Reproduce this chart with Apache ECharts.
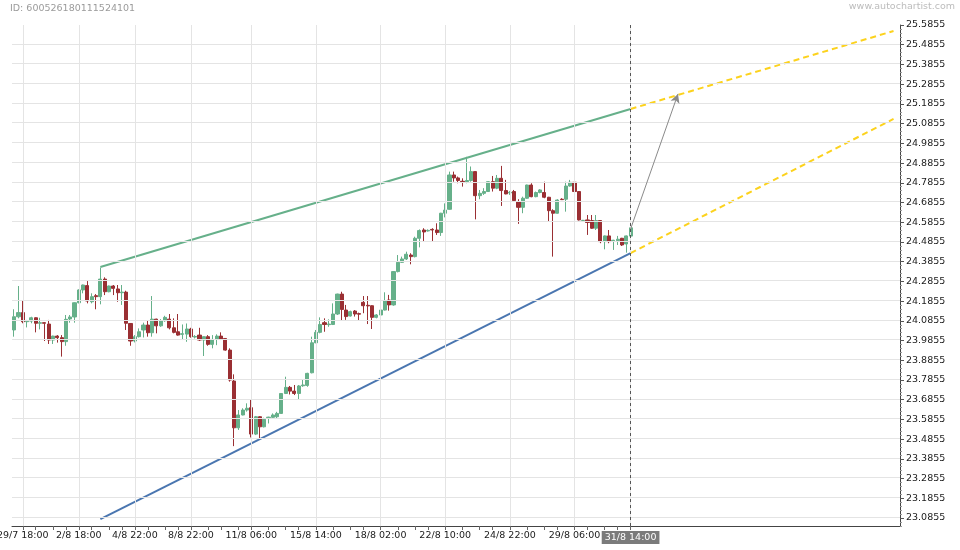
<!DOCTYPE html>
<html><head><meta charset="utf-8">
<script src="https://cdn.jsdelivr.net/npm/echarts@6/dist/echarts.min.js"></script>
<style>html,body{margin:0;padding:0;background:#fff}#c{width:960px;height:550px}</style>
</head><body><div id="c"></div>
<script>
const chartId = 'ID: 600526180111524101';
const sourceText = 'www.autochartist.com';

const opens = [24.039,24.106,24.127,24.081,24.084,24.101,24.073,24.076,24.069,23.988,24.008,24.000,23.980,24.095,24.105,24.177,24.242,24.264,24.182,24.213,
24.208,24.297,24.233,24.262,24.247,24.228,24.231,24.072,23.983,24.005,24.039,24.064,24.025,24.094,24.060,24.086,24.094,24.050,24.030,24.017,
24.018,24.044,24.003,24.013,23.988,24.005,23.966,23.991,24.008,23.996,23.937,23.780,23.543,23.608,23.633,23.645,23.511,23.599,23.548,23.594,
23.596,23.599,23.616,23.717,23.748,23.729,23.717,23.756,23.758,23.822,23.974,24.027,24.076,24.066,24.067,24.120,24.221,24.140,24.110,24.135,
24.122,24.179,24.164,24.162,24.103,24.115,24.140,24.191,24.166,24.335,24.382,24.399,24.419,24.411,24.504,24.546,24.541,24.549,24.546,24.533,
24.631,24.651,24.825,24.810,24.793,24.791,24.797,24.842,24.720,24.732,24.741,24.791,24.758,24.808,24.746,24.734,24.741,24.690,24.661,24.707,
24.774,24.715,24.736,24.736,24.712,24.644,24.631,24.702,24.702,24.769,24.788,24.741,24.594,24.597,24.594,24.555,24.594,24.487,24.516,24.491,
24.492,24.504,24.475,24.515];
const closes = [24.106,24.127,24.081,24.086,24.101,24.073,24.076,24.073,23.988,24.008,24.000,23.980,24.093,24.105,24.177,24.242,24.267,24.186,24.208,24.208,
24.297,24.233,24.262,24.250,24.228,24.231,24.073,23.983,24.005,24.030,24.064,24.025,24.094,24.060,24.086,24.103,24.050,24.027,24.013,24.020,
24.044,24.005,24.006,23.988,24.005,23.966,23.991,24.008,23.993,23.937,23.785,23.543,23.608,23.633,23.642,23.511,23.599,23.548,23.586,23.597,
23.608,23.616,23.717,23.748,23.729,23.717,23.755,23.760,23.819,23.974,24.027,24.067,24.067,24.069,24.120,24.221,24.143,24.107,24.132,24.120,
24.119,24.162,24.161,24.103,24.115,24.140,24.188,24.166,24.335,24.382,24.399,24.423,24.411,24.504,24.543,24.536,24.544,24.546,24.533,24.631,
24.647,24.825,24.810,24.797,24.790,24.797,24.842,24.720,24.732,24.741,24.791,24.758,24.808,24.746,24.729,24.737,24.695,24.661,24.707,24.774,
24.715,24.736,24.749,24.712,24.644,24.631,24.698,24.700,24.769,24.788,24.741,24.597,24.595,24.584,24.555,24.594,24.487,24.516,24.487,24.494,
24.499,24.470,24.516,24.557];
const lows = [24.005,24.098,24.073,24.052,24.073,24.027,24.042,23.983,23.968,23.968,23.975,23.904,23.959,24.076,24.076,24.174,24.225,24.174,24.174,24.144,
24.169,24.216,24.230,24.216,24.182,24.166,24.039,23.959,23.976,24.001,24.001,24.005,24.005,24.022,24.055,24.081,24.042,24.022,24.010,23.988,
23.979,24.000,23.996,23.983,23.907,23.959,23.946,23.962,23.988,23.934,23.777,23.450,23.532,23.606,23.625,23.494,23.506,23.489,23.545,23.565,
23.591,23.591,23.613,23.714,23.712,23.709,23.684,23.751,23.751,23.819,23.972,24.022,24.030,24.055,24.064,24.115,24.086,24.090,24.107,24.107,
24.085,24.124,24.069,24.044,24.098,24.073,24.138,24.137,24.162,24.331,24.380,24.394,24.372,24.407,24.458,24.487,24.538,24.487,24.521,24.516,
24.610,24.649,24.791,24.783,24.766,24.783,24.791,24.600,24.702,24.724,24.739,24.741,24.753,24.668,24.727,24.724,24.690,24.577,24.631,24.704,
24.712,24.712,24.732,24.707,24.589,24.411,24.629,24.698,24.639,24.766,24.732,24.594,24.589,24.521,24.552,24.546,24.479,24.448,24.479,24.445,
24.470,24.465,24.431,24.505];
const highs = [24.144,24.262,24.188,24.090,24.106,24.103,24.101,24.078,24.090,24.010,24.013,24.013,24.115,24.115,24.179,24.245,24.269,24.287,24.225,24.221,
24.355,24.306,24.264,24.267,24.267,24.267,24.238,24.074,24.013,24.047,24.076,24.086,24.211,24.096,24.094,24.111,24.120,24.098,24.120,24.067,
24.072,24.050,24.013,24.050,24.007,24.013,24.013,24.017,24.027,23.998,23.946,23.814,23.633,23.642,23.667,23.687,23.603,23.601,23.594,23.599,
23.616,23.624,23.719,23.802,23.755,23.760,23.760,23.788,23.822,24.005,24.039,24.103,24.098,24.093,24.174,24.223,24.233,24.166,24.137,24.140,
24.127,24.211,24.211,24.164,24.120,24.149,24.230,24.217,24.337,24.419,24.411,24.436,24.428,24.512,24.549,24.555,24.549,24.555,24.580,24.633,
24.681,24.842,24.842,24.817,24.808,24.917,24.868,24.844,24.749,24.758,24.793,24.820,24.825,24.871,24.800,24.744,24.749,24.702,24.715,24.776,
24.783,24.741,24.753,24.791,24.714,24.651,24.702,24.707,24.791,24.800,24.830,24.743,24.597,24.622,24.622,24.622,24.596,24.518,24.546,24.496,
24.516,24.506,24.518,24.565];

const slotCount = 206;
const tickIndex = [2, 15, 28, 41, 55, 70, 85, 100, 115, 130, 143];
const tickLabels = ['29/7 18:00', '2/8 18:00', '4/8 22:00', '8/8 22:00', '11/8 06:00', '15/8 14:00', '18/8 02:00', '22/8 10:00', '24/8 22:00', '29/8 06:00', '31/8 14:00'];
const currentIndex = 143;

const yTicks = [23.0855, 23.1855, 23.2855, 23.3855, 23.4855, 23.5855, 23.6855, 23.7855, 23.8855, 23.9855, 24.0855, 24.1855, 24.2855,
  24.3855, 24.4855, 24.5855, 24.6855, 24.7855, 24.8855, 24.9855, 25.0855, 25.1855, 25.2855, 25.3855, 25.4855, 25.5855];
const yTop = 25.5855;
const yBottom = 23.045;

const resistance = [[20, 24.358], [143, 25.1595]];
const support = [[20, 23.080], [143, 24.429]];
const projUpper = [[143, 25.1595], [204, 25.555]];
const projLower = [[143, 24.429], [204, 25.109]];
const forecast = [[143, 24.551], [154, 25.236]];

// ---- build ----
const cats = Array.from({length: slotCount}, (_, i) => String(i));
const candleData = cats.map((_, i) => i < opens.length ? [opens[i], closes[i], lows[i], highs[i]] : '-');
const labelMap = new Map(tickIndex.map((t, k) => [t, tickLabels[k]]));
const tickSet = new Set(tickIndex);
for (let k = 0; k < tickIndex.length - 1; k++) {
  const a = tickIndex[k], b = tickIndex[k + 1];
  for (let q = 1; q < 4; q++) tickSet.add(Math.round(a + (b - a) * q / 4));
}
const minorTicks = [];
for (let k = 0; k < yTicks.length - 1; k++) {
  for (let q = 1; q < 5; q++) minorTicks.push(Number((yTicks[k] + (yTicks[k + 1] - yTicks[k]) * q / 5).toFixed(5)));
}
for (let q = 1; q < 3; q++) minorTicks.push(Number((yTicks[0] - (yTicks[1] - yTicks[0]) * q / 5).toFixed(5)));

const GREEN = '#66b08a', RED = '#9a2f33', BLUE = '#4a76b0', YELLOW = '#fcd21d';
const font = 'DejaVu Sans';

const chart = echarts.init(document.getElementById('c'), null, {renderer: 'canvas'});
chart.setOption({
  animation: false,
  backgroundColor: '#ffffff',
  grid: {left: 12, right: 60, top: 25, bottom: 24, containLabel: false, outerBoundsMode: 'none'},
  graphic: [
    {type: 'text', left: 10, top: 4, style: {text: chartId, fill: '#9b9b9b', font: '9.5px "DejaVu Sans"'}},
    {type: 'text', right: 5, top: 2, style: {text: sourceText, fill: '#bcbcbc', font: '9.5px "DejaVu Sans"'}}
  ],
  xAxis: {
    type: 'category', data: cats, boundaryGap: true,
    axisLine: {show: true, lineStyle: {color: '#444', width: 1}},
    axisTick: {show: true, alignWithLabel: true, length: 4, interval: i => tickSet.has(i), lineStyle: {color: '#666'}},
    axisLabel: {
      interval: i => labelMap.has(i), margin: 5, color: '#1a1a1a', fontSize: 9.5, fontFamily: font,
      formatter: (v) => { const idx = Number(v); const t = labelMap.get(idx) || ''; return idx === currentIndex ? '{hl|' + t + '}' : t; },
      rich: {hl: {backgroundColor: '#7b7b7b', color: '#fff', fontSize: 9.5, fontFamily: font, padding: [2, 3, 1, 3]}}
    },
    splitLine: {show: false}
  },
  yAxis: [
    {
      type: 'value', position: 'right', min: yBottom, max: yTop,
      axisLine: {show: true, lineStyle: {color: '#444', width: 1}},
      axisTick: {show: true, length: 4, customValues: yTicks, lineStyle: {color: '#555'}},
      splitLine: {show: false},
      axisLabel: {margin: 6, color: '#1a1a1a', fontSize: 9.5, fontFamily: font, customValues: yTicks,
        formatter: v => Number(v).toFixed(4)}
    },
    {
      type: 'value', position: 'right', min: yBottom, max: yTop,
      axisLine: {show: false},
      axisTick: {show: true, length: 2, customValues: minorTicks, lineStyle: {color: '#999'}},
      splitLine: {show: false},
      axisLabel: {show: false}
    }
  ],
  series: [
    {
      type: 'line', data: [], z: 1, silent: true,
      markLine: {silent: true, symbol: ['none', 'none'], label: {show: false}, animation: false,
        lineStyle: {color: '#e4e4e4', width: 1, type: 'solid'},
        data: tickIndex.map(i => ({xAxis: String(i)})).concat(yTicks.map(v => ({yAxis: v})))}
    },
    {
      type: 'candlestick', data: candleData, barWidth: 3.6, z: 3,
      itemStyle: {color: GREEN, color0: RED, borderColor: GREEN, borderColor0: RED, borderWidth: 1}
    },
    {type: 'line', data: resistance, symbol: 'none', z: 4, lineStyle: {color: GREEN, width: 2}},
    {type: 'line', data: support, symbol: 'none', z: 4, lineStyle: {color: BLUE, width: 2}},
    {type: 'line', data: projUpper, symbol: 'none', z: 4, lineStyle: {color: YELLOW, width: 2, type: [6, 4]}},
    {type: 'line', data: projLower, symbol: 'none', z: 4, lineStyle: {color: YELLOW, width: 2, type: [6, 4]}},
    {
      type: 'line', data: [], z: 5, silent: true,
      markLine: {silent: true, symbol: ['none', 'none'], label: {show: false}, animation: false,
        lineStyle: {color: '#555', width: 1, type: [3, 3]},
        data: [{xAxis: String(currentIndex)}]}
    },
    {
      type: 'line', data: [], z: 6, silent: true,
      markLine: {silent: true, symbol: ['none', 'arrow'], symbolSize: [7, 9], label: {show: false}, animation: false,
        lineStyle: {color: '#8a8a8a', width: 1, type: 'solid'},
        data: [[{coord: [forecast[0][0], forecast[0][1]]}, {coord: [forecast[1][0], forecast[1][1]]}]]}
    }
  ]
});
</script></body></html>
